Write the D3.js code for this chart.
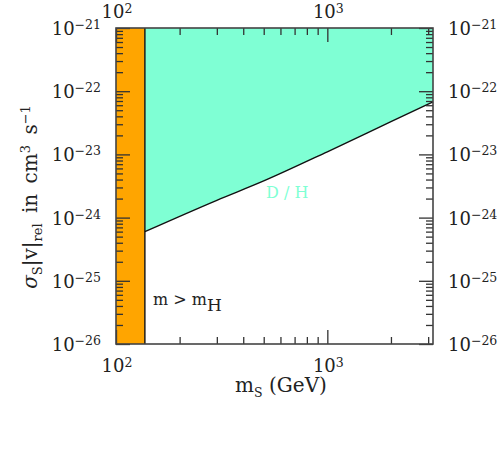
<!DOCTYPE html>
<meta charset="utf-8">
<style>

body {
  margin: 0;
  background: #fff;
}

text {
  font-family: "DejaVu Serif", serif;
  fill: #222;
}

.axis path { display: none; }

.axis line {
  stroke: #333;
  stroke-width: 1.3;
}

.frame {
  fill: none;
  stroke: #444;
  stroke-width: 1.6;
}

</style>
<body>
<script src="https://cdn.jsdelivr.net/npm/d3@7"></script>
<script>

// mass where the Higgs-threshold band ends (GeV)
var massCut = 137;

// D/H bound: mass (GeV) vs sigma|v| (cm^3 s^-1)
var massDH = [137, 300, 500, 1000, 2000, 3162];
var sigmaDH = [6.0e-25, 1.88e-24, 3.8e-24, 1.1e-23, 3.3e-23, 6.8e-23];

var xExp = [2, 3];
var yExp = [-21, -22, -23, -24, -25, -26];

var margin = {top: 28, right: 66, bottom: 117, left: 116},
    width = 499 - margin.left - margin.right,
    height = 461 - margin.top - margin.bottom;

var x = d3.scaleLog()
    .domain([100, Math.pow(10, 3.5)])
    .range([0, width]);

var y = d3.scaleLog()
    .domain([1e-26, 1e-21])
    .range([height, 0]);

// major and minor tick values
var xMajor = xExp.map(function(e) { return Math.pow(10, e); });
var xMinor = [];
[100, 1000].forEach(function(b) {
  for (var k = 2; k <= 9; k++) if (b * k <= x.domain()[1]) xMinor.push(b * k);
});
var yMajor = yExp.map(function(e) { return Math.pow(10, e); });
var yMinor = [];
yExp.slice(1).forEach(function(e) {
  for (var k = 2; k <= 9; k++) yMinor.push(k * Math.pow(10, e));
});

var svg = d3.select("body").append("svg")
    .attr("width", 499)
    .attr("height", 461)
  .append("g")
    .attr("transform", "translate(" + margin.left + "," + margin.top + ")");

// orange band
svg.append("rect")
    .attr("x", x(100))
    .attr("y", 0)
    .attr("width", x(massCut) - x(100))
    .attr("height", height)
    .style("fill", "#ffa500");

// teal excluded region above the D/H line
var pts = massDH.map(function(m, i) { return [x(m), y(sigmaDH[i])]; });
var area = d3.area()
    .x(function(d) { return d[0]; })
    .y0(0)
    .y1(function(d) { return d[1]; })
    .curve(d3.curveMonotoneX);

svg.append("path")
    .datum(pts)
    .attr("d", area)
    .style("fill", "#7fffd4");

svg.append("path")
    .datum(pts)
    .attr("d", d3.line().curve(d3.curveMonotoneX))
    .style("fill", "none")
    .style("stroke", "#111")
    .style("stroke-width", 1.4);

svg.append("line")
    .attr("x1", x(massCut)).attr("x2", x(massCut))
    .attr("y1", 0).attr("y2", height)
    .style("stroke", "#111")
    .style("stroke-width", 1.4);

// inward ticks on all four sides
function ticks(axis, vals, size, cls, tr) {
  svg.append("g")
      .attr("class", "axis " + cls)
      .attr("transform", tr || null)
      .call(axis.tickValues(vals).tickSize(size).tickFormat(""));
}
ticks(d3.axisBottom(x), xMajor, -14, "x", "translate(0," + height + ")");
ticks(d3.axisBottom(x), xMinor, -7, "x", "translate(0," + height + ")");
ticks(d3.axisTop(x), xMajor, -14, "x");
ticks(d3.axisTop(x), xMinor, -7, "x");
ticks(d3.axisLeft(y), yMajor, -14, "y");
ticks(d3.axisLeft(y), yMinor, -7, "y");
ticks(d3.axisRight(y), yMajor, -14, "y", "translate(" + width + ",0)");
ticks(d3.axisRight(y), yMinor, -7, "y", "translate(" + width + ",0)");

svg.append("rect")
    .attr("class", "frame")
    .attr("width", width)
    .attr("height", height);

// power-of-ten labels
function powLabel(sel, exp, rise) {
  sel.append("tspan").text("10");
  sel.append("tspan")
      .attr("dy", -rise)
      .style("font-size", "12.5px")
      .text(String(exp).replace("-", "\u2212"));
}

[[-10, "top"], [height + 28, "bottom"]].forEach(function(p) {
  svg.selectAll(".xl-" + p[1])
      .data(xExp)
    .enter().append("text")
      .attr("class", "xl-" + p[1])
      .attr("x", function(d) { return x(Math.pow(10, d)) + 1; })
      .attr("y", p[0])
      .style("text-anchor", "middle")
      .style("font-size", "18px")
      .each(function(d) { powLabel(d3.select(this), d, 5); });
});

[[-15, "end"], [width + 15, "start"]].forEach(function(p) {
  svg.selectAll(".yl-" + p[1])
      .data(yExp)
    .enter().append("text")
      .attr("class", "yl-" + p[1])
      .attr("x", p[0])
      .attr("y", function(d) { return y(Math.pow(10, d)) + 7; })
      .style("text-anchor", p[1])
      .style("font-size", "18px")
      .each(function(d) { powLabel(d3.select(this), d, 6); });
});

// axis titles
var xt = svg.append("text")
    .attr("x", 165)
    .attr("y", height + 48)
    .style("text-anchor", "middle")
    .style("font-size", "20px");
xt.append("tspan").text("m");
xt.append("tspan").attr("dy", 5).style("font-size", "12.5px").text("S");
xt.append("tspan").attr("dy", -5).text("  (GeV)");

var yt = svg.append("text")
    .attr("transform", "translate(-79," + (197 - margin.top) + ") rotate(-90)")
    .style("text-anchor", "middle")
    .style("font-size", "20px")
    .style("word-spacing", "4px");
yt.append("tspan").style("font-style", "italic").text("\u03c3");
yt.append("tspan").attr("dy", 5).style("font-size", "13px").text("S");
yt.append("tspan").attr("dy", -5).text("|v|");
yt.append("tspan").attr("dy", 5).style("font-size", "13px").text("rel");
yt.append("tspan").attr("dy", -5).text(" in cm");
yt.append("tspan").attr("dy", -7).style("font-size", "13px").text("3");
yt.append("tspan").attr("dy", 7).text(" s");
yt.append("tspan").attr("dy", -7).style("font-size", "13px").text("\u22121");

// region labels
svg.append("text")
    .attr("x", 150)
    .attr("y", 170)
    .style("fill", "#7fffd4")
    .style("font-size", "16px")
    .text("D / H");

var mh = svg.append("text")
    .attr("x", 37)
    .attr("y", 277)
    .style("font-size", "16px");
mh.append("tspan").text("m > m");
mh.append("tspan").attr("dy", 6).style("font-size", "17px").text("H");

</script>
